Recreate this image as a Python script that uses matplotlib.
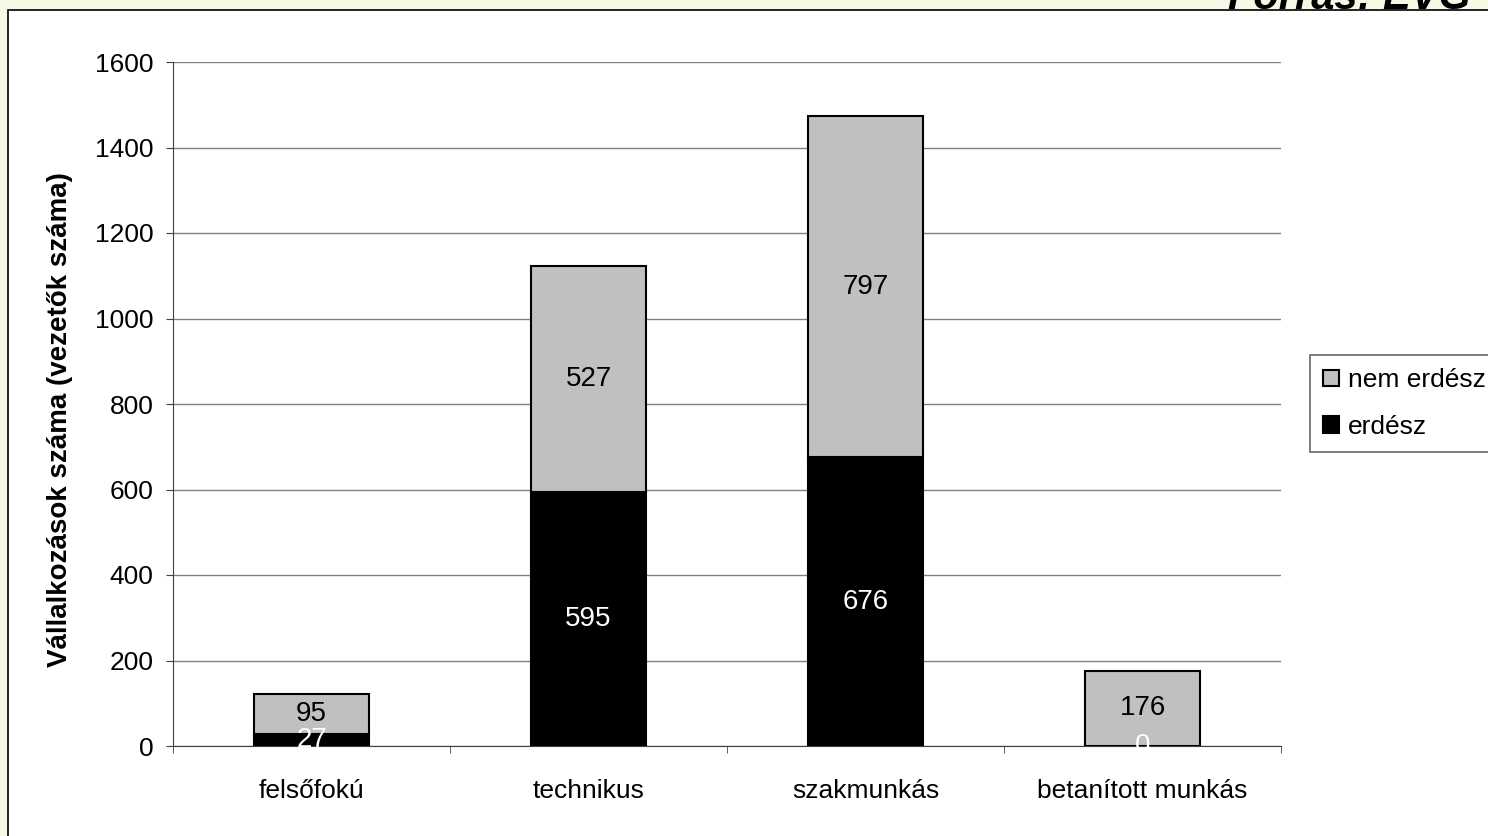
import matplotlib
matplotlib.use("Agg")
import matplotlib.pyplot as plt
from matplotlib.patches import Rectangle, Patch

plt.rcParams['font.family'] = ['Liberation Sans', 'DejaVu Sans']

categories = ["felsőfokú", "technikus", "szakmunkás", "betanított munkás"]
erdesz = [27, 595, 676, 0]
nem_erdesz = [95, 527, 797, 176]

W, H = 1488, 836
fig = plt.figure(figsize=(W / 100, H / 100), dpi=100)
fig.patch.set_facecolor('#f8f8e6')

# white panel with black frame (runs off the right/bottom edge)
panel = Rectangle((8 / W, -0.05), 1.1, 1 - 10 / H + 0.05, transform=fig.transFigure,
                  facecolor='white', edgecolor='black', linewidth=1.2, zorder=-10)
fig.patches.append(panel)

# source note at the very top, cut off by the image edge like in the original
fig.text(1228 / W, 1 - 9 / H, "Forrás: EVG", fontsize=30, fontweight='bold',
         fontstyle='italic', ha='left', va='baseline', zorder=-20)

ax = fig.add_axes([173 / W, 1 - 746 / H, 1108 / W, 684 / H])
ax.set_facecolor('white')

x = list(range(len(categories)))
width = 0.415
ax.bar(x, erdesz, width, color='black', edgecolor='black', linewidth=1.5, zorder=3)
ax.bar(x, nem_erdesz, width, bottom=erdesz, color='#c0c0c0', edgecolor='black',
       linewidth=1.5, zorder=3)

for i in x:
    ax.text(i, erdesz[i] / 2, str(erdesz[i]), ha='center', va='center',
            color='white', fontsize=20, zorder=4)
    ax.text(i, erdesz[i] + nem_erdesz[i] / 2, str(nem_erdesz[i]), ha='center',
            va='center', color='black', fontsize=20, zorder=4)

ax.set_xlim(-0.5, len(categories) - 0.5)
ax.set_ylim(0, 1600)
ax.set_yticks(range(0, 1601, 200))
ax.yaxis.grid(True, color='#808080', linewidth=1)
ax.set_axisbelow(True)
for s in ['top', 'right']:
    ax.spines[s].set_visible(False)
ax.spines['left'].set_color('#404040')
ax.spines['bottom'].set_color('#404040')

ax.set_xticks(x)
ax.set_xticklabels(categories)
ax.set_xticks([i - 0.5 for i in range(len(categories) + 1)], minor=True)
ax.tick_params(axis='x', which='major', length=0, pad=24, labelsize=19)
ax.tick_params(axis='x', which='minor', length=5, direction='out', color='#404040')
ax.tick_params(axis='y', length=5, direction='out', labelsize=19, pad=9, color='#404040')

ax.set_ylabel("Vállalkozások száma (vezetők száma)", fontsize=20, fontweight='bold',
              labelpad=16)
ax.yaxis.label.set_y(0.477)

handles = [Patch(facecolor='#c0c0c0', edgecolor='black', linewidth=1.5),
           Patch(facecolor='black', edgecolor='black', linewidth=1.5)]
leg = fig.legend(handles, ["nem erdész", "erdész"], loc='upper left',
                 bbox_to_anchor=(1310 / W, 1 - 355 / H), fontsize=19, frameon=True,
                 fancybox=False, edgecolor='#404040', handlelength=0.6,
                 handleheight=0.6, handletextpad=0.35, borderpad=0.5, labelspacing=0.85,
                 borderaxespad=0)
leg.get_frame().set_linewidth(1.2)

fig.savefig("out.png", dpi=100, facecolor=fig.get_facecolor())
